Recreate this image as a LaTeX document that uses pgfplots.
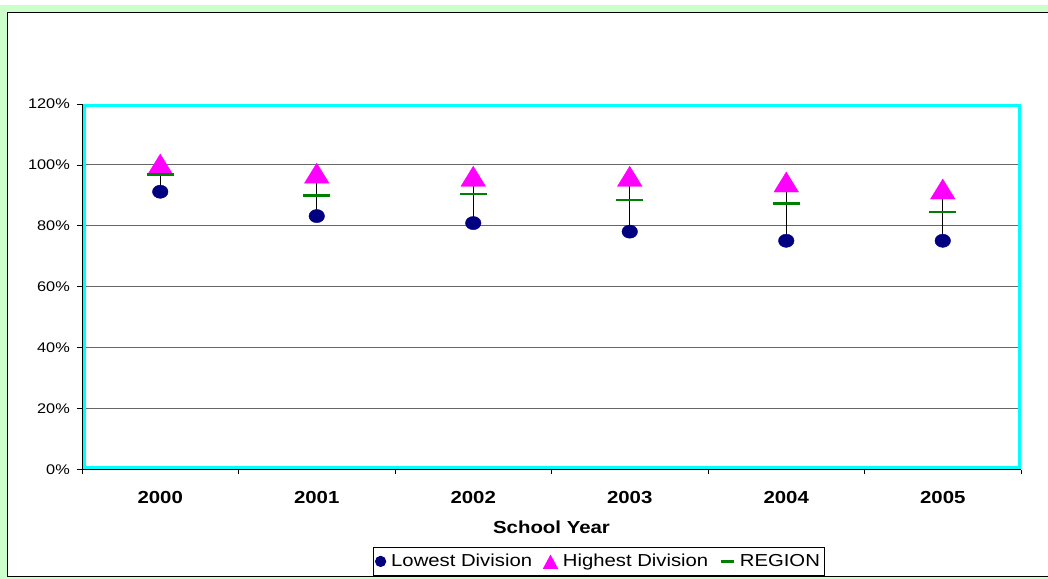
\documentclass[border=0pt]{standalone}
\usepackage{pgfplots}
\pgfplotsset{compat=1.18}
\usepackage{pgfplotstable}
\usepackage{fontspec}
\setmainfont[FakeStretch=1.17]{Liberation Sans}

\definecolor{lowc}{HTML}{000080}
\definecolor{highc}{HTML}{FF00FF}
\definecolor{regc}{HTML}{008000}
\definecolor{framec}{HTML}{00FFFF}
\definecolor{bgc}{HTML}{CCFFCC}

% Pass rates (%) by school year
\pgfplotstableread{
x low  high  region
0 91.2 100.3 96.9
1 83.2 97.3  90.0
2 80.9 96.3  90.5
3 78.1 96.3  88.5
4 75.1 94.4  87.3
5 75.1 92.1  84.5
}\rates

\begin{document}
\begin{tikzpicture}
\useasboundingbox (0bp,0bp) rectangle (1048bp,579bp);
\fill[white] (0bp,0bp) rectangle (1048bp,579bp);
\fill[bgc] (0bp,0bp) rectangle (1048bp,574bp);
\filldraw[fill=white, draw=black, line width=1bp] (7.5bp,2.5bp) rectangle (1060bp,566.5bp);

\begin{axis}[
  at={(82bp,109.5bp)}, anchor=south west,
  scale only axis, width=939bp, height=365.5bp,
  xmin=-0.5, xmax=5.5, ymin=0, ymax=120,
  axis x line*=bottom, axis y line*=left,
  axis line style={black, line width=0.8bp, -},
  tick align=outside,
  major tick length=5bp,
  tick style={black, line width=0.8bp},
  xtick={-0.5,0.5,1.5,2.5,3.5,4.5,5.5},
  x tick label as interval,
  xticklabels={2000,2001,2002,2003,2004,2005},
  xticklabel style={font=\bfseries\fontsize{17.5}{20}\selectfont, inner sep=0pt, yshift=-17bp},
  ytick={0,20,...,120},
  yticklabel={\pgfmathprintnumber{\tick}\%},
  yticklabel style={font=\fontsize{14}{16}\selectfont, inner sep=0pt, xshift=-7bp},
  /pgf/number format/assume math mode=true,
  ymajorgrids,
  major grid style={black!60, line width=0.9bp},
  xlabel={School Year},
  xlabel style={font=\bfseries\fontsize{17.5}{20}\selectfont, inner sep=0pt, at={(axis description cs:0.5,0)}, anchor=north, yshift=-51bp},
  legend columns=-1,
  legend style={at={(axis description cs:0.3095,-0.2120)}, anchor=north west,
    draw=black, line width=0.8bp, inner xsep=2bp, inner ysep=5bp,
    font=\fontsize{17.4}{20}\selectfont,
    /tikz/every odd column/.append style={column sep=3bp},
    /tikz/every even column/.append style={column sep=9bp}},
  clip=false,
]
\draw[framec, line width=3bp] ([xshift=2.5bp,yshift=2bp]rel axis cs:0,0) rectangle ([xshift=-1.5bp,yshift=-1.5bp]rel axis cs:1,1);

% high-low lines
\addplot[draw=none, forget plot,
  error bars/.cd, y dir=plus, y explicit, error mark=none,
  error bar style={black, line width=0.9bp}]
  table[x=x, y=low, y error expr=\thisrow{high}-\thisrow{low}] {\rates};

\addplot[only marks, mark=*, mark size=7.8bp, color=lowc,
  mark options={yscale=0.85},
  legend image code/.code={\fill[lowc] (5bp,0bp) circle (5.2bp);}]
  table[x=x, y=low] {\rates};
\addlegendentry{Lowest Division}

\addplot[only marks, mark=triangle*, mark size=14.2bp, color=highc,
  mark options={yshift=-3.4bp, yscale=0.94},
  legend image code/.code={\fill[highc] (0bp,-7bp) -- (14bp,-7bp) -- (7bp,6bp) -- cycle;}]
  table[x=x, y=high] {\rates};
\addlegendentry{Highest Division}

\addplot[only marks, mark=-, mark size=13.5bp, color=regc,
  mark options={line width=2.6bp},
  legend image code/.code={\draw[regc, line width=2.6bp] (0bp,0bp) -- (13bp,0bp);}]
  table[x=x, y=region] {\rates};
\addlegendentry{REGION}
\end{axis}
\end{tikzpicture}
\end{document}
